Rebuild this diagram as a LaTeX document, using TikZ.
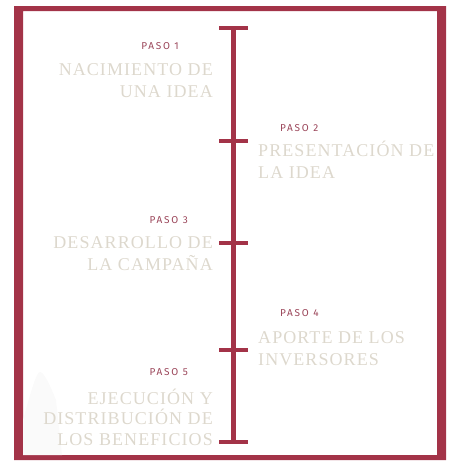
\documentclass[tikz,border=0pt]{standalone}
\usepackage{fontspec}
\setmainfont{Liberation Serif}
\newfontfamily\pasofont[LetterSpace=18]{Fira Sans}
\newfontfamily\titlefont[LetterSpace=6]{Liberation Serif}
\definecolor{marco}{RGB}{163,51,72}
\definecolor{paso}{RGB}{155,70,90}
\definecolor{titulo}{RGB}{221,216,205}

\begin{document}
\begin{tikzpicture}[x=1pt,y=-1pt,
    paso/.style={font=\pasofont\fontsize{10}{12}\selectfont,text=paso,inner sep=0pt},
    titulo/.style={font=\titlefont\fontsize{18}{22}\selectfont,text=titulo,inner sep=0pt},
    tick/.style={draw=marco,line width=4pt}]
  \useasboundingbox (0,0) rectangle (453,469);
  % marco
  \fill[marco,even odd rule] (14,6) rectangle (446,460) (23,11) rectangle (437,455);
  % sombra
  \fill[black!2] (23,455) -- (23,420) .. controls (30,395) and (36,372) .. (40,372)
    .. controls (44,372) and (50,385) .. (56,400) -- (62,455) -- cycle;
  % linea de tiempo
  \coordinate (t1) at (233.5,27.5);
  \coordinate (t2) at (233.5,141);
  \coordinate (t3) at (233.5,243);
  \coordinate (t4) at (233.5,350);
  \coordinate (t5) at (233.5,442);
  \draw[marco,line width=5pt] (t1) -- (t5);
  \draw[tick] ([xshift=-14.5pt]t1) -- ([xshift=14.5pt]t1);
  \draw[tick] ([xshift=-14.5pt]t2) -- ([xshift=14.5pt]t2);
  \draw[tick] ([xshift=-14.5pt]t3) -- ([xshift=14.5pt]t3);
  \draw[tick] ([xshift=-14.5pt]t4) -- ([xshift=14.5pt]t4);
  \draw[tick] ([xshift=-14.5pt]t5) -- ([xshift=14.5pt]t5);
  % pasos
  \node[paso,anchor=base east] (p1) at (179,49) {PASO 1};
  \node[titulo,align=right,anchor=base east] (s1) at (213,97) {NACIMIENTO DE\\UNA IDEA};
  \node[paso,anchor=base west] (p2) at (280,131) {PASO 2};
  \node[titulo,align=left,anchor=base west] (s2) at (258,178) {PRESENTACIÓN DE\\LA IDEA};
  \node[paso,anchor=base east] (p3) at (188,223) {PASO 3};
  \node[titulo,align=right,anchor=base east] (s3) at (213,270) {DESARROLLO DE\\LA CAMPAÑA};
  \node[paso,anchor=base west] (p4) at (280,316) {PASO 4};
  \node[titulo,align=left,anchor=base west] (s4) at (258,365) {APORTE DE LOS\\INVERSORES};
  \node[paso,anchor=base east] (p5) at (188,375) {PASO 5};
  \node[titulo,align=right,anchor=base east,font=\titlefont\fontsize{18}{20.5}\selectfont] (s5) at (213,445) {EJECUCIÓN Y\\DISTRIBUCIÓN DE\\LOS BENEFICIOS};
\end{tikzpicture}
\end{document}
